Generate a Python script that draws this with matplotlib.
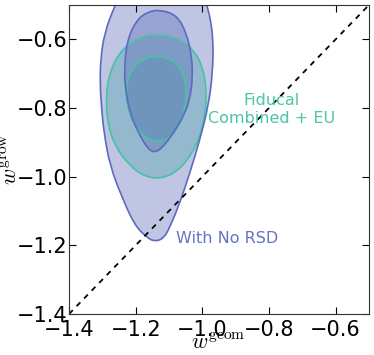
import numpy as np
import matplotlib
matplotlib.use("Agg")
import matplotlib.pyplot as plt
from matplotlib.patches import PathPatch
from matplotlib.path import Path

plt.rcParams['mathtext.fontset'] = 'cm'
plt.rcParams['font.family'] = 'DejaVu Sans'

# contour outlines (w_geom, w_grow)
norsd_outer_x = [-1.262, -1.294, -1.305, -1.307, -1.302, -1.295, -1.277, -1.239, -1.202, -1.167,
                 -1.145, -1.117, -1.097, -1.067, -1.037, -1.007, -0.982, -0.969, -0.967, -0.977,
                 -0.987, -1.000, -1.050, -1.130, -1.200, -1.240]
norsd_outer_y = [-0.500, -0.582, -0.659, -0.727, -0.804, -0.872, -0.969, -1.065, -1.143, -1.176,
                 -1.189, -1.181, -1.147, -1.075, -0.988, -0.891, -0.795, -0.698, -0.601, -0.534,
                 -0.500, -0.450, -0.410, -0.400, -0.420, -0.460]

norsd_inner_x = [-1.127, -1.077, -1.047, -1.032, -1.029, -1.037, -1.057, -1.077, -1.107, -1.137,
                 -1.162, -1.192, -1.217, -1.231, -1.234, -1.225, -1.197, -1.162]
norsd_inner_y = [-0.514, -0.529, -0.582, -0.650, -0.708, -0.775, -0.824, -0.857, -0.901, -0.930,
                 -0.922, -0.872, -0.814, -0.746, -0.679, -0.601, -0.543, -0.519]

fid_outer_x = [-1.137, -1.067, -1.027, -0.999, -0.987, -0.992, -1.007, -1.032, -1.072, -1.124,
               -1.177, -1.222, -1.262, -1.285, -1.289, -1.279, -1.247, -1.197]
fid_outer_y = [-0.584, -0.600, -0.629, -0.679, -0.746, -0.824, -0.882, -0.935, -0.983, -1.007,
               -0.998, -0.964, -0.911, -0.843, -0.766, -0.698, -0.635, -0.597]

fid_inner_x = [-1.132, -1.087, -1.059, -1.047, -1.052, -1.072, -1.102, -1.135, -1.172, -1.207,
               -1.225, -1.229, -1.217, -1.182]
fid_inner_y = [-0.647, -0.661, -0.693, -0.746, -0.804, -0.857, -0.891, -0.899, -0.886, -0.848,
               -0.795, -0.746, -0.693, -0.657]

ticks = [-1.4, -1.2, -1.0, -0.8, -0.6]

teal_fill = '#40c3a0'
teal_line = '#46c3a5'
blue_fill = '#6170bb'
blue_line = '#5b6bbf'

fig = plt.figure(figsize=(3.74, 3.55), dpi=100)
ax = fig.add_axes([0.1845, 0.1155, 0.802, 0.8704])


def smooth_path(xs, ys):
    # closed quadratic-bezier outline using the read points as control points
    pts = np.column_stack([xs, ys])
    mids = (pts + np.roll(pts, -1, axis=0)) / 2
    verts = [mids[-1]]
    codes = [Path.MOVETO]
    for p, m in zip(pts, mids):
        verts += [p, m]
        codes += [Path.CURVE3, Path.CURVE3]
    verts.append(mids[-1])
    codes.append(Path.CLOSEPOLY)
    return Path(verts, codes)


layers = [
    (fid_outer_x, fid_outer_y, teal_fill, teal_line, 0.38),
    (fid_inner_x, fid_inner_y, teal_fill, teal_line, 0.38),
    (norsd_outer_x, norsd_outer_y, blue_fill, blue_line, 0.4),
    (norsd_inner_x, norsd_inner_y, blue_fill, blue_line, 0.4),
]

for xs, ys, fill, line, alpha in layers:
    ax.add_patch(PathPatch(smooth_path(xs, ys), facecolor=fill, edgecolor='none', alpha=alpha))
for xs, ys, fill, line, alpha in layers:
    ax.add_patch(PathPatch(smooth_path(xs, ys), facecolor='none', edgecolor=line, lw=1.2))

ax.plot([-1.4, -0.5], [-1.4, -0.5], color='black', ls='--', lw=1.3, dashes=(3, 3))

ax.text(-0.791, -0.803, 'Fiducal\nCombined + EU', color='#4cc4a6', fontsize=11.5,
        ha='center', va='center', linespacing=1.25)
ax.text(-0.927, -1.181, 'With No RSD', color='#6374c4', fontsize=11.5, ha='center', va='center')

ax.set_xlim(-1.4, -0.5)
ax.set_ylim(-1.4, -0.5)
ax.set_xticks(ticks)
ax.set_yticks(ticks)
ax.tick_params(direction='in', top=True, right=True, labelsize=15, length=5)
ax.tick_params(axis='x', pad=4)
ax.tick_params(axis='y', pad=1)
for s in ax.spines.values():
    s.set_color('#333333')

ax.set_xlabel(r'$w^{\rm geom}$', fontsize=16, va='center')
ax.set_ylabel(r'$w^{\rm grow}$', fontsize=16, va='center')
ax.xaxis.set_label_coords(0.497, -0.094)
ax.yaxis.set_label_coords(-0.195, 0.5)

fig.savefig('out.png', dpi=100)
